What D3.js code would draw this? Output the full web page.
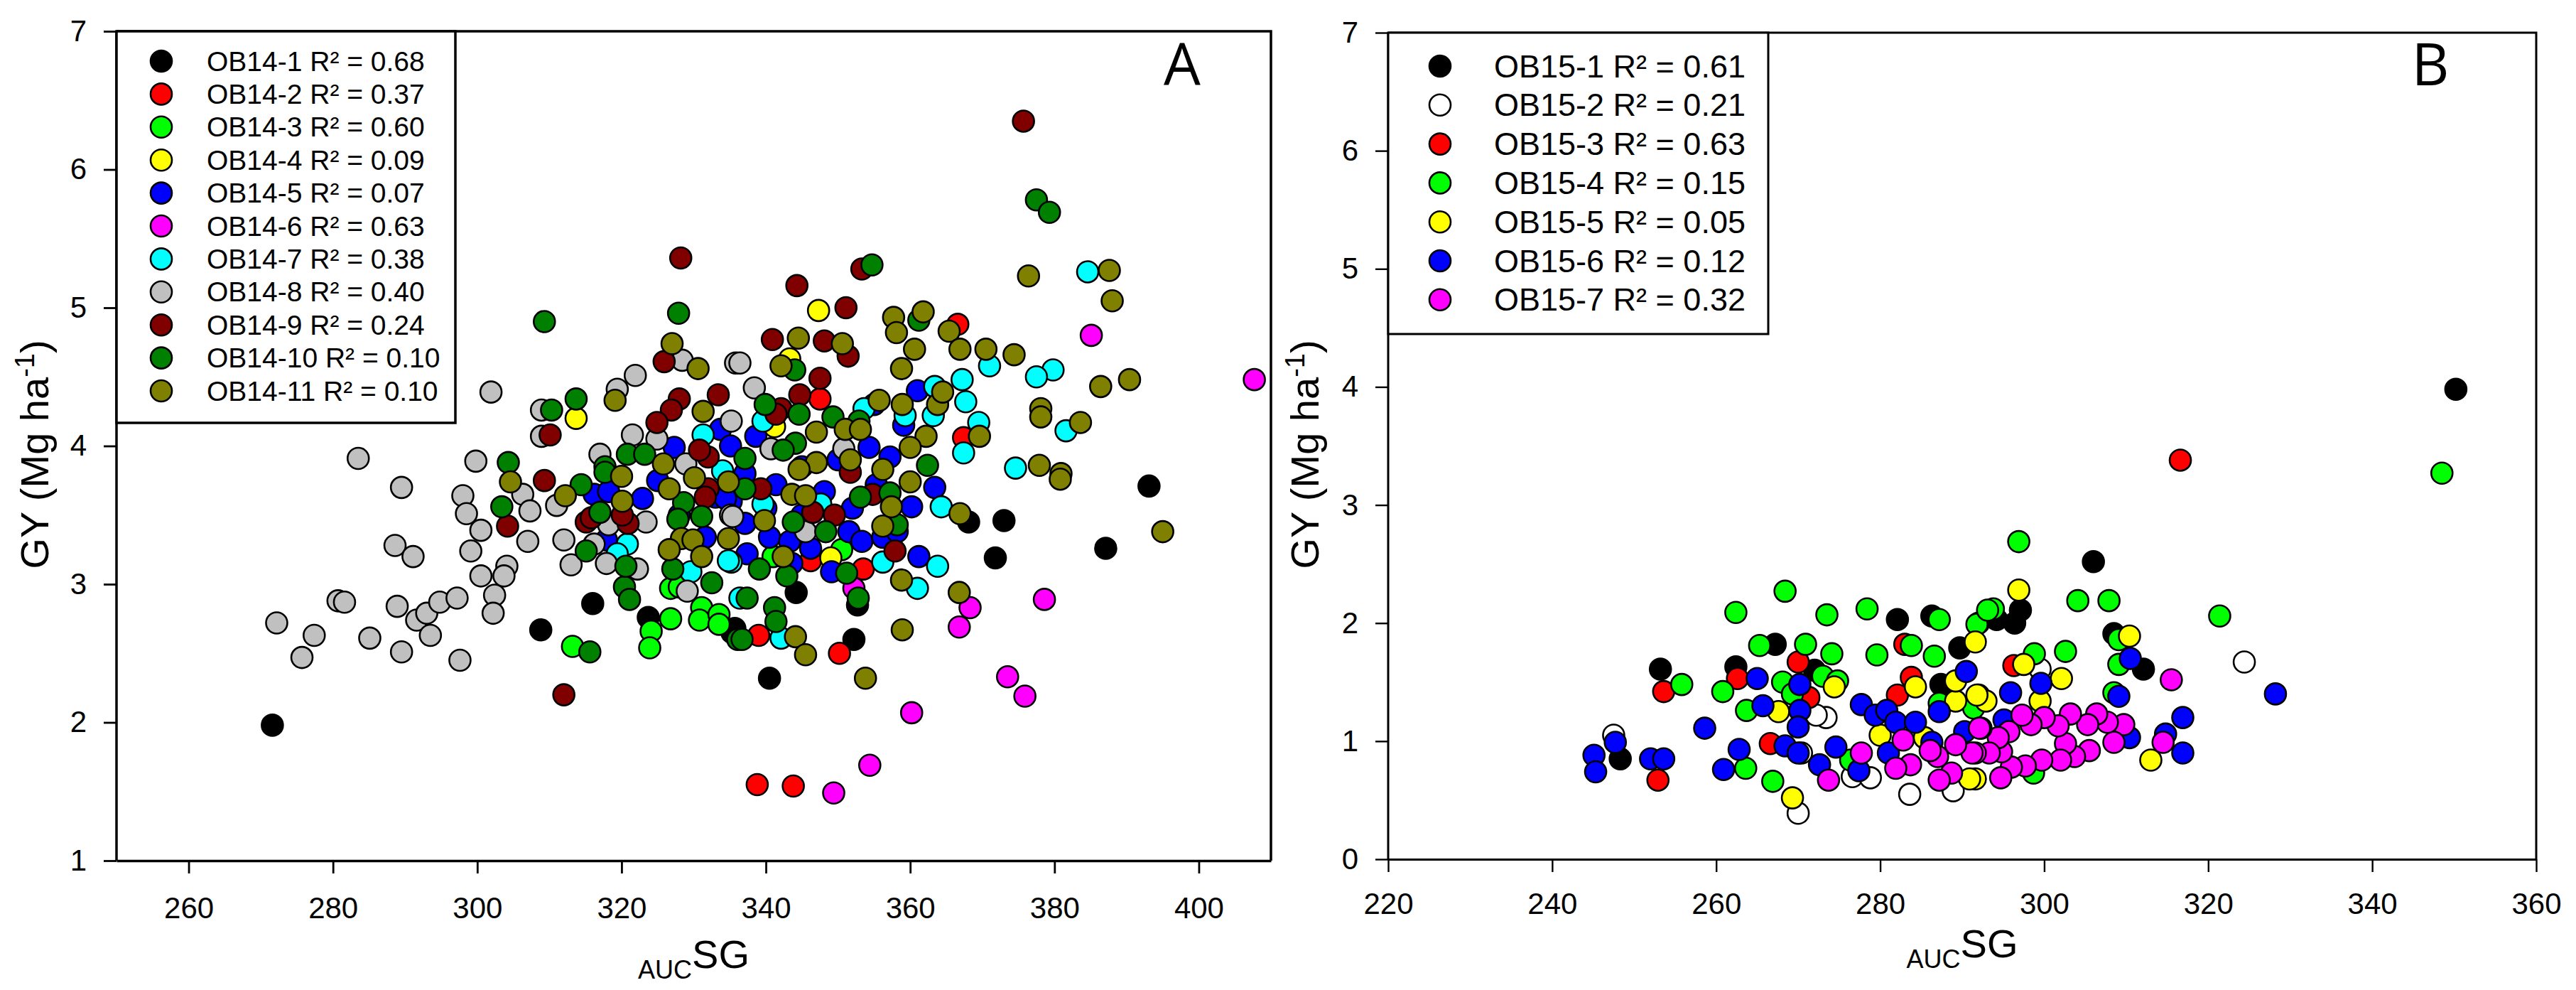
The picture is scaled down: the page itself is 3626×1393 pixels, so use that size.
<!DOCTYPE html>
<html>
<head>
<meta charset="utf-8">
<script src="https://cdn.jsdelivr.net/npm/d3@7"></script>
<style>
  body { margin: 0; background: #fff; }
  text { font-family: "Liberation Sans", Arial, sans-serif; }
</style>
</head>
<body>
<div id="chart"></div>
<script>
// ---- panel A: 2014 trials, GY vs AUC SG ----
const ob14Labels = ["OB14-1 R² = 0.68", "OB14-2 R² = 0.37", "OB14-3 R² = 0.60", "OB14-4 R² = 0.09",
  "OB14-5 R² = 0.07", "OB14-6 R² = 0.63", "OB14-7 R² = 0.38", "OB14-8 R² = 0.40",
  "OB14-9 R² = 0.24", "OB14-10 R² = 0.10", "OB14-11 R² = 0.10"];
const ob14Colors = ["#000000", "#ff0000", "#00ff00", "#ffff00", "#0000ff", "#ff00ff",
  "#00ffff", "#c0c0c0", "#800000", "#008000", "#808000"];

const ob14_1 = [[271.6,1.98],[393.1,3.71],[373,3.46],[387.1,3.26],[371.8,3.19],[368.1,3.45],[344.2,2.94],
  [352.2,2.60],[340.5,2.32],[352.7,2.85],[335.7,2.68],[308.8,2.67],[316.0,2.86],[323.7,2.76],[335.3,2.65]];
const ob14_2 = [[338.8,1.55],[343.8,1.54],[350.2,2.50],[339.0,2.63],[353.5,3.11],[346.2,3.17],[366.6,4.88],
  [347.5,4.34],[367.4,4.06]];
const ob14_3 = [[313.2,2.55],[324.1,2.66],[323.9,2.54],[326.8,2.75],[331.1,2.83],[330.8,2.74],[333.5,2.78],
  [333.5,2.71],[326.8,2.97],[328,2.98],[350.5,3.25],[341,3.2]];
const ob14_4 = [[347.3,4.98],[313.7,4.20],[349.0,3.19],[341.2,4.14],[343.3,4.63]];
const ob14_5 = [[337.1,3.80],[341.4,3.72],[348.1,3.67],[355.3,3.72],[363.4,3.70],[360.2,3.56],[337.1,3.44],
  [340.5,3.34],[343.3,3.31],[346.2,3.26],[351.5,3.38],[353.3,3.31],[356.2,3.34],[358.2,3.38],[337.4,3.22],
  [343.6,3.15],[349.1,3.09],[361.2,3.20],[335.2,3.60],[361.0,4.40],[338.6,4.07],[354.3,3.99],[357.2,3.92],
  [359.1,4.15],[355.0,4.30],[327.3,3.99],[333.7,4.12],[335.1,4.00],[316.2,3.65],[318.2,3.67],[322.9,3.62],
  [317.9,3.32],[331.6,3.34],[333.0,3.63],[334.4,3.62],[345,3.85],[350,3.9],[340,3.55],[352,3.55],[328,3.5],
  [325,3.75],[345,3.5]];
const ob14_6 = [[407.7,4.48],[385.1,4.80],[378.6,2.89],[368.3,2.83],[366.8,2.69],[373.5,2.33],[375.9,2.19],
  [360.2,2.07],[354.4,1.69],[349.4,1.49],[352.2,2.97]];
const ob14_7 = [[384.6,5.26],[379.8,4.55],[377.5,4.50],[371.0,4.58],[367.4,3.95],[369.5,4.17],[381.6,4.11],
  [374.6,3.84],[367.2,4.48],[367.7,4.32],[363.4,4.43],[363.2,4.22],[353.6,4.27],[359.3,4.22],[339.6,4.18],
  [364.3,3.56],[363.8,3.13],[361.0,2.97],[356.2,3.16],[342.1,2.61],[336.4,2.90],[335.2,3.16],[339.6,3.58],
  [347.6,3.58],[320.8,3.29],[319.4,3.22],[329.6,3.09],[334.8,3.17],[331.3,4.08],[334.0,3.82]];
const ob14_8 = [[272.2,2.72],[275.7,2.47],[277.4,2.63],[280.7,2.88],[281.6,2.87],[285.1,2.61],[288.6,3.28],
  [291.1,3.20],[289.5,3.70],[288.9,2.84],[289.5,2.51],[291.6,2.74],[293.0,2.79],[294.8,2.87],[297.2,2.90],
  [293.5,2.63],[297.6,2.45],[298.0,3.64],[298.5,3.51],[299.1,3.24],[300.5,3.06],[300.5,3.39],[302.4,2.92],
  [302.2,2.79],[304.1,3.13],[303.7,3.06],[306.3,3.65],[307.3,3.53],[307.0,3.31],[312.0,3.32],[311.0,3.57],
  [313.0,3.14],[317.9,3.15],[323.4,3.45],[322.2,3.11],[329.1,2.95],[316.2,3.29],[318.2,3.43],[335.1,3.50],
  [283.5,3.91],[299.8,3.89],[301.9,4.39],[308.9,4.26],[308.9,4.07],[321.9,4.51],[319.4,4.41],[328.4,4.62],
  [321.5,4.08],[324.9,4.05],[335.8,4.60],[317.0,3.94],[328.9,3.87],[336.4,4.60],[338.4,4.42],[335.2,4.18],
  [340.7,3.98],[350.8,3.98],[345.5,3.38],[335.4,3.49]];
const ob14_9 = [[328.2,5.36],[325.9,4.61],[328.0,4.34],[326.9,4.26],[324.9,4.17],[333.4,4.37],[310.1,4.08],
  [332.0,3.92],[330.8,3.97],[375.7,6.35],[353.3,5.28],[344.3,5.16],[351.1,5.00],[340.9,4.77],[348.1,4.76],
  [351.4,4.65],[347.5,4.49],[344.7,4.37],[342.1,4.27],[341.4,4.23],[309.3,3.75],[304.2,3.42],[312.0,2.20],
  [315.1,3.45],[315.8,3.48],[320.9,3.44],[320.1,3.50],[332.0,3.69],[331.6,3.63],[339.3,3.69],[346.5,3.52],
  [349.5,3.50],[357.9,3.24],[351.7,3.81],[354.8,3.65]];
const ob14_10 = [[309.3,4.90],[327.9,4.96],[313.7,4.34],[310.3,4.26],[304.3,3.88],[320.8,3.94],[323.2,3.94],
  [317.7,3.85],[377.5,5.78],[379.3,5.69],[354.7,5.31],[361.2,4.91],[344.0,4.55],[339.9,4.30],[344.6,4.23],
  [349.3,4.21],[352.9,4.18],[344.1,4.02],[342.4,3.97],[337.1,3.91],[362.4,3.86],[303.4,3.56],[315.1,3.24],
  [314.4,3.72],[317.0,3.52],[320.4,2.98],[321.1,2.89],[315.6,2.51],[327.1,3.11],[328.6,3.59],[331.1,3.49],
  [327.8,3.47],[332.5,3.01],[320.6,3.13],[317.7,3.81],[336.1,2.60],[337.1,3.69],[343.8,3.45],[348.3,3.38],
  [353.1,3.63],[357.2,3.66],[358.2,3.43],[339.1,3.11],[342.9,3.06],[351.2,3.08],[337.4,2.90],[352.8,2.90],
  [341.2,2.83],[341.4,2.73],[336.7,2.60]];
const ob14_11 = [[376.4,5.23],[387.6,5.27],[388.0,5.05],[390.4,4.48],[386.4,4.43],[378.1,4.27],[378.1,4.21],
  [383.6,4.17],[377.9,3.86],[380.9,3.80],[357.7,4.93],[361.8,4.97],[358.1,4.82],[365.4,4.83],[360.6,4.70],
  [366.9,4.70],[370.5,4.70],[374.4,4.66],[358.8,4.56],[344.5,4.78],[350.6,4.74],[342.1,4.58],[355.7,4.33],
  [358.9,4.30],[363.8,4.30],[364.5,4.39],[369.6,4.07],[362.2,4.07],[360.0,3.99],[351.7,3.90],[347.0,4.10],
  [351.0,4.12],[353.1,4.12],[347.0,3.88],[344.6,3.83],[356.2,3.83],[327.0,4.74],[330.6,4.56],[319.1,4.33],
  [331.3,4.25],[325.8,3.87],[304.6,3.74],[312.2,3.64],[320.0,3.78],[320.1,3.60],[326.6,3.69],[330.1,3.77],
  [328.3,3.33],[329.9,3.32],[326.6,3.25],[331.1,3.20],[334.8,3.74],[334.8,3.33],[343.6,3.65],[345.5,3.64],
  [339.8,3.46],[356.2,3.42],[357.4,3.56],[360.0,3.74],[342.4,3.20],[358.8,3.03],[366.8,2.94],[366.9,3.51],
  [358.9,2.67],[344.1,2.62],[345.5,2.49],[353.8,2.32],[380.8,3.76],[395.0,3.38]];

// ---- panel B: 2015 trials ----
const ob15Labels = ["OB15-1 R² = 0.61", "OB15-2 R² = 0.21", "OB15-3 R² = 0.63", "OB15-4 R² = 0.15",
  "OB15-5 R² = 0.05", "OB15-6 R² = 0.12", "OB15-7 R² = 0.32"];
const ob15Colors = ["#000000", "#ffffff", "#ff0000", "#00ff00", "#ffff00", "#0000ff", "#ff00ff"];

const ob15_1 = [[253.2,1.61],[262.4,1.63],[267.2,1.82],[282.1,2.03],[286.3,2.06],[289.7,1.79],[287.4,1.48],
  [272.0,1.60],[248.3,0.85],[350.2,3.98],[306.0,2.52],[297.1,2.11],[296.4,2.00],[294.2,2.03],[308.5,1.91],
  [312.1,1.61]];
const ob15_2 = [[247.5,1.05],[270.0,0.39],[283.6,0.55],[273.4,1.20],[272.2,1.22],[276.6,0.70],[278.8,0.69],
  [270.4,0.90],[288.9,0.58],[324.4,1.67],[299.5,1.61]];
const ob15_3 = [[316.6,3.38],[253.6,1.42],[252.9,0.67],[262.6,1.53],[270.0,1.67],[266.6,0.98],[271.3,1.37],
  [282.1,1.39],[283.8,1.54],[283.0,1.82],[296.3,1.64]];
const ob15_4 = [[348.5,3.27],[296.9,2.69],[321.4,2.06],[304.1,2.19],[307.9,2.19],[293.8,2.12],[292.0,2.00],
  [298.8,1.74],[302.6,1.76],[309.1,1.65],[309.1,1.86],[308.5,1.41],[298.7,0.73],[268.4,2.27],[262.4,2.09],
  [273.5,2.07],[278.4,2.12],[287.2,2.03],[291.8,1.99],[293.1,2.11],[265.3,1.81],[270.9,1.82],[274.1,1.74],
  [279.6,1.73],[283.8,1.81],[286.6,1.72],[255.8,1.48],[260.8,1.42],[268.1,1.50],[273.0,1.55],[274.8,1.51],
  [263.7,1.26],[263.6,0.77],[266.9,0.66],[276.4,0.84],[269.3,1.40],[287.2,1.32],[291.4,1.28]];
const ob15_5 = [[296.9,2.28],[310.4,1.89],[297.5,1.65],[302.1,1.53],[299.5,1.34],[292.0,1.39],[292.9,1.34],
  [313.0,0.84],[291.6,0.68],[291.6,1.84],[289.2,1.34],[291.8,1.39],[289.2,1.51],[284.3,1.46],
  [274.4,1.46],[267.6,1.25],[280.0,1.05],[285.4,1.03],[290.9,0.68],[269.3,0.52]];
const ob15_6 = [[328.2,1.40],[316.9,1.20],[316.9,0.90],[314.8,1.06],[310.5,1.70],[309.1,1.38],[299.6,1.49],
  [295.9,1.41],[310.4,1.03],[295.1,1.18],[290.5,1.59],[265.0,1.53],[265.7,1.30],[270.2,1.48],[270.2,1.26],
  [270.0,1.12],[258.6,1.11],[245.1,0.88],[245.3,0.74],[247.7,0.99],[252.0,0.85],[253.6,0.85],[262.8,0.93],
  [260.9,0.76],[268.4,0.96],[270.0,0.90],[272.6,0.80],[274.6,0.95],[277.4,0.75],[277.7,1.31],[279.4,1.22],
  [280.8,1.26],[281.9,1.16],[284.3,1.16],[287.2,1.25],[281.0,0.90],[290.3,1.08],[286.3,0.99]];
const ob15_7 = [[315.5,1.52],[314.5,0.99],[309.7,1.14],[308.5,0.99],[307.7,1.16],[306.4,1.23],[305.3,1.14],
  [305.5,0.92],[303.7,0.87],[303.2,1.23],[302.6,0.98],[301.7,1.13],[302.0,0.84],[300.0,1.20],[299.7,0.84],
  [298.4,1.14],[297.7,0.79],[297.3,1.22],[296.0,0.78],[295.7,1.08],[294.8,0.91],[294.7,0.69],[294.4,1.03],
  [293.3,0.90],[292.3,1.11],[291.6,0.90],[292.1,1.11],[291.2,0.90],[289.2,0.97],[288.7,0.73],[287.2,0.67],
  [287.0,0.87],[286.1,0.92],[283.7,0.80],[281.9,0.77],[282.8,1.01],[277.7,0.90],[273.7,0.67]];

const ob14Series = [ob14_1, ob14_2, ob14_3, ob14_4, ob14_5, ob14_6, ob14_7, ob14_8, ob14_9, ob14_10, ob14_11];
const ob15Series = [ob15_1, ob15_2, ob15_3, ob15_4, ob15_5, ob15_6, ob15_7];

const xTicksA = [260, 280, 300, 320, 340, 360, 380, 400];
const yTicksA = [1, 2, 3, 4, 5, 6, 7];
const xTicksB = [220, 240, 260, 280, 300, 320, 340, 360];
const yTicksB = [0, 1, 2, 3, 4, 5, 6, 7];

const W = 3626, H = 1393;
const svg = d3.select("#chart").append("svg")
    .attr("width", W).attr("height", H)
    .style("background", "#fff");

function drawPanel(p) {
    const x = d3.scaleLinear().domain(p.xDomain).range([p.left, p.right]);
    const y = d3.scaleLinear().domain(p.yDomain).range([p.bottom, p.top]);
    const g = svg.append("g");

    // frame top / right
    g.append("path")
        .attr("d", `M${p.left},${p.top}H${p.right}V${p.bottom}`)
        .attr("fill", "none").attr("stroke", "#000").attr("stroke-width", p.lw);

    const fmt = d3.format("d");
    const xAxis = g.append("g")
        .attr("transform", `translate(0,${p.bottom})`)
        .call(d3.axisBottom(x).tickValues(p.xTicks).tickFormat(fmt)
            .tickSize(18).tickPadding(p.xPad).tickSizeOuter(0));
    const yAxis = g.append("g")
        .attr("transform", `translate(${p.left},0)`)
        .call(d3.axisLeft(y).tickValues(p.yTicks).tickFormat(fmt)
            .tickSize(18).tickPadding(24).tickSizeOuter(0));
    [xAxis, yAxis].forEach(a => {
        a.select(".domain").attr("stroke-width", p.lw);
        a.selectAll(".tick line").attr("stroke-width", p.lw * 0.8);
        a.selectAll("text").attr("font-size", 42).attr("fill", "#000")
            .style("font-family", "'Liberation Sans', Arial, sans-serif");
    });
    // y axis line should reach the frame top
    yAxis.select(".domain").attr("d", `M0,${p.bottom}V${p.top}`);

    // points, series drawn in order so later ones sit on top
    p.series.forEach((pts, i) => {
        g.append("g").selectAll("circle").data(pts).join("circle")
            .attr("cx", d => x(d[0]))
            .attr("cy", d => y(d[1]))
            .attr("r", 15)
            .attr("fill", p.colors[i])
            .attr("stroke", "#000")
            .attr("stroke-width", 2.6);
    });

    // legend
    const L = p.legend;
    g.append("rect")
        .attr("x", p.left).attr("y", p.top)
        .attr("width", L.w).attr("height", L.h)
        .attr("fill", "#fff").attr("stroke", "#000").attr("stroke-width", p.lw);
    p.labels.forEach((t, i) => {
        const cy = p.top + L.first + i * L.step;
        g.append("circle").attr("cx", p.left + L.mx).attr("cy", cy).attr("r", 15)
            .attr("fill", p.colors[i]).attr("stroke", "#000").attr("stroke-width", 2.6);
        g.append("text").attr("x", p.left + L.tx).attr("y", cy)
            .attr("dominant-baseline", "central")
            .attr("font-size", L.fs).text(t);
    });

    // panel letter
    g.append("text").attr("x", p.letterX).attr("y", 120)
        .attr("text-anchor", "middle").attr("font-size", 82)
        .style("font-family", "'Open Sans', 'Liberation Sans', sans-serif")
        .text(p.letter);

    // y axis title
    const yt = g.append("text")
        .attr("transform", `translate(${p.yTitleX},${(p.top + p.bottom) / 2 + 12}) rotate(-90)`)
        .attr("text-anchor", "middle").attr("font-size", 56);
    yt.append("tspan").text("GY (Mg ha");
    yt.append("tspan").attr("dy", -20).attr("font-size", 38).text("-1");
    yt.append("tspan").attr("dy", 20).text(")");

    // x axis title
    const xt = g.append("text")
        .attr("x", (p.left + p.right) / 2).attr("y", p.xTitleY)
        .attr("text-anchor", "middle").attr("font-size", 56);
    xt.append("tspan").attr("font-size", 36).attr("dy", 15).text("AUC");
    xt.append("tspan").attr("dy", -15).text("SG");
}

drawPanel({
    left: 164, right: 1789, top: 44, bottom: 1211, lw: 3.5,
    xDomain: [250, 410], yDomain: [1, 7], xTicks: xTicksA, yTicks: yTicksA, xPad: 33,
    series: ob14Series, colors: ob14Colors, labels: ob14Labels,
    legend: { w: 477, h: 551, first: 42, step: 46.4, mx: 63, tx: 127, fs: 39 },
    letter: "A", letterX: 1664, yTitleX: 68, xTitleY: 1362
});
drawPanel({
    left: 1954, right: 3570, top: 46, bottom: 1209, lw: 3,
    xDomain: [220, 360], yDomain: [0, 7], xTicks: xTicksB, yTicks: yTicksB, xPad: 29,
    series: ob15Series, colors: ob15Colors, labels: ob15Labels,
    legend: { w: 535, h: 424, first: 47, step: 54.8, mx: 73, tx: 149, fs: 45 },
    letter: "B", letterX: 3421, yTitleX: 1856, xTitleY: 1347
});
</script>
</body>
</html>
